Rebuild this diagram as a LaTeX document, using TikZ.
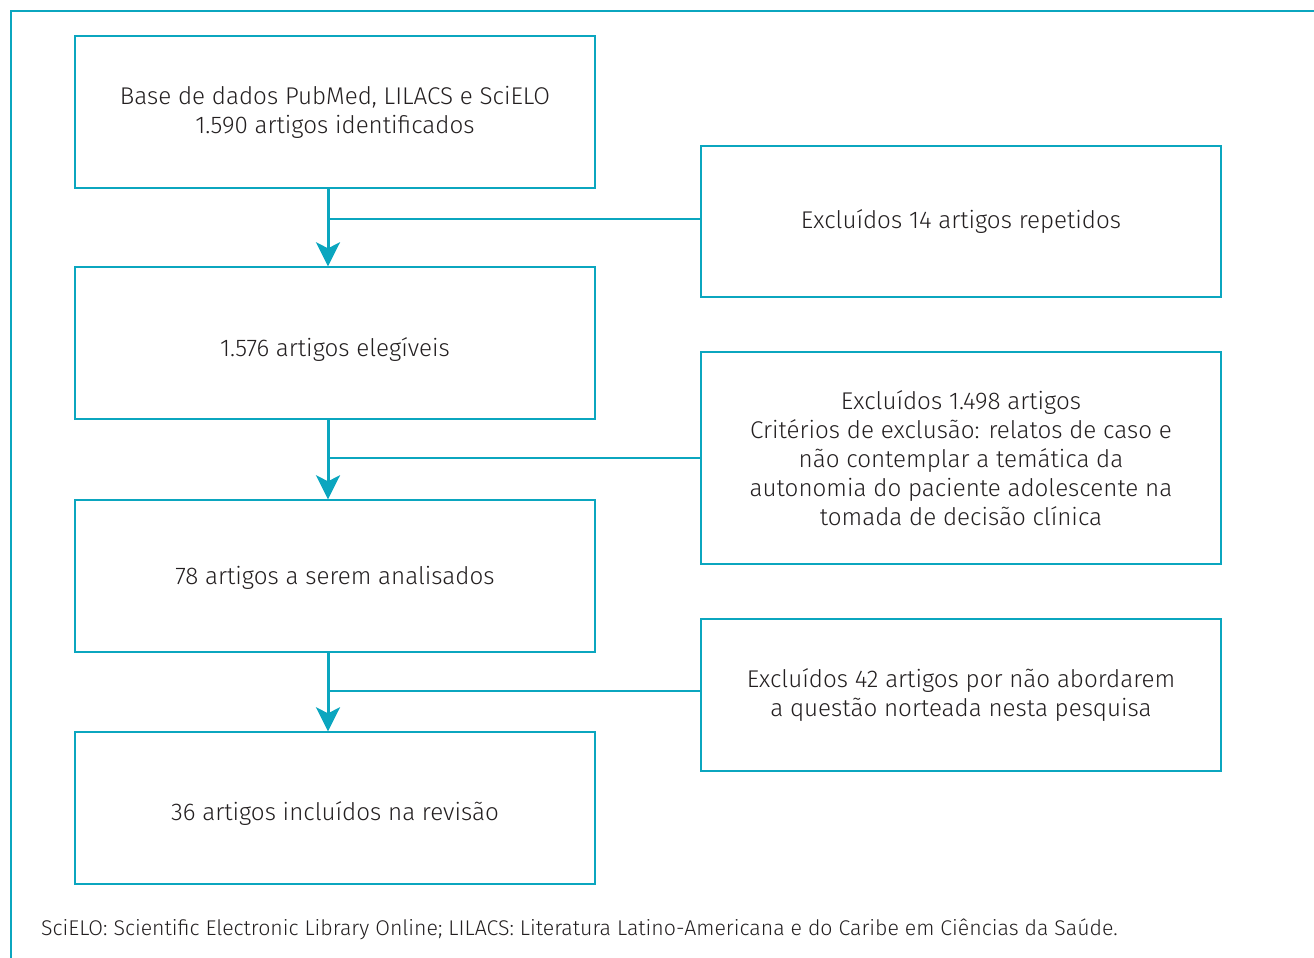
\documentclass[tikz,border=0pt]{standalone}
\usepackage{fontspec}
\setmainfont{Fira Sans}[UprightFont={* Light}]
\usetikzlibrary{arrows.meta}
\definecolor{teal}{HTML}{0BA6BF}
\definecolor{txt}{HTML}{231F20}
\newcommand{\lowr}[2]{\raisebox{-#1}[\height][\depth]{#2}}
\tikzset{
  box/.style={draw=teal, line width=1.4pt, minimum width=520pt, minimum height=152pt, align=center, inner sep=0pt, text=txt, font=\fontsize{24.2}{29}\selectfont},
  flow/.style={draw=teal, line width=3pt, -{Stealth[length=24pt,width=24pt,inset=6pt]}},
  side/.style={draw=teal, line width=1.4pt},
}
\begin{document}
\begin{tikzpicture}[x=1pt,y=-1pt]
\useasboundingbox (0,0) rectangle (1314,958);
\draw[teal, line width=2pt] (1314,11) -- (11,11) -- (11,958);
\node[box] (b1) at (335,112) {\lowr{1pt}{\begin{tabular}{@{}c@{}}Base de dados PubMed, LILACS e SciELO\\1.590 artigos identificados\end{tabular}}};
\node[box] (b2) at (335,343) {\lowr{7pt}{1.576 artigos elegíveis}};
\node[box] (b3) at (335,576) {\lowr{2pt}{78 artigos a serem analisados}};
\node[box] (b4) at (335,808) {\lowr{6pt}{36 artigos incluídos na revisão}};
\node[box, minimum height=151pt] (r1) at (961,221.5) {Excluídos 14 artigos repetidos};
\node[box, minimum height=212pt] (r2) at (961,458) {Excluídos 1.498 artigos\\Critérios de exclusão: relatos de caso e\\não contemplar a temática da\\autonomia do paciente adolescente na\\tomada de decisão clínica};
\node[box, minimum height=152pt] (r3) at (961,695) {Excluídos 42 artigos por não abordarem\\a questão norteada nesta pesquisa};
\coordinate (a1) at (328,188);
\coordinate (a2) at (328,419);
\coordinate (a3) at (328,652);
\draw[flow] (a1) -- (a1 |- b2.north);
\draw[flow] (a2) -- (a2 |- b3.north);
\draw[flow] (a3) -- (a3 |- b4.north);
\coordinate (j1) at (328,219);
\coordinate (j2) at (328,458);
\coordinate (j3) at (328,691);
\draw[side] (j1) -- (j1 -| r1.west);
\draw[side] (j2) -- (j2 -| r2.west);
\draw[side] (j3) -- (j3 -| r3.west);
\node[anchor=west, text=txt, font=\fontsize{21.3}{24}\selectfont, inner sep=0pt] (foot) at (41,929) {SciELO: Scientific Electronic Library Online; LILACS: Literatura Latino-Americana e do Caribe em Ciências da Saúde.};
\end{tikzpicture}
\end{document}
